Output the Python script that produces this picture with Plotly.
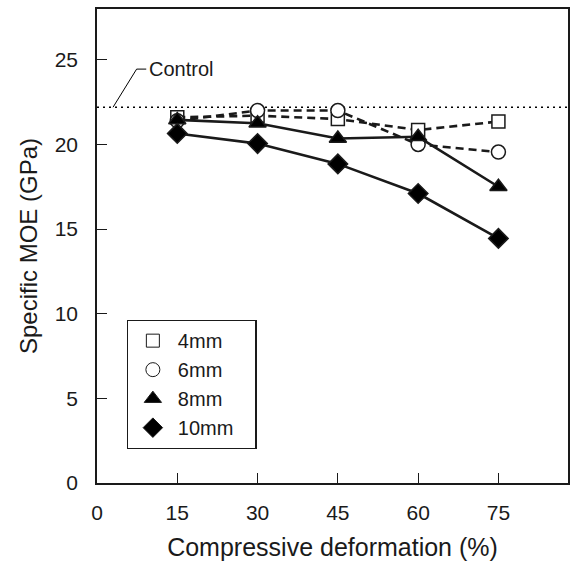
import plotly.graph_objects as go

deformation = [15, 30, 45, 60, 75]
moe_4mm = [21.6, 21.7, 21.5, 20.85, 21.35]
moe_6mm = [21.4, 22.0, 22.0, 20.0, 19.55]
moe_8mm = [21.45, 21.25, 20.35, 20.45, 17.5]
moe_10mm = [20.65, 20.05, 18.85, 17.1, 14.45]
control_moe = 22.2

series = [
    ("4mm", moe_4mm, "square", "white", "8px,5px", 13),
    ("6mm", moe_6mm, "circle", "white", "8px,5px", 14),
    ("8mm", moe_8mm, "triangle-up", "black", "solid", 15),
    ("10mm", moe_10mm, "diamond", "black", "solid", 15),
]

fig = go.Figure()

fig.add_trace(go.Scatter(x=[0, 88], y=[control_moe, control_moe], mode="lines",
                         line=dict(color="black", width=1.6, dash="2px,4px"),
                         showlegend=False, hoverinfo="skip"))

for name, vals, sym, fill, dash, size in series:
    fig.add_trace(go.Scatter(
        x=deformation, y=vals, mode="lines+markers", showlegend=False,
        line=dict(color="#1a1a1a", width=2.6, dash=dash),
        marker=dict(symbol=sym, size=size, color=fill,
                    line=dict(color="#1a1a1a", width=1.5)),
    ))

for name, vals, sym, fill, dash, size in series:
    fig.add_trace(go.Scatter(
        x=[None], y=[None], mode="markers", name=name + "\u00a0\u00a0\u00a0",
        marker=dict(symbol=sym, size=size, color=fill,
                    line=dict(color="#1a1a1a", width=1)),
    ))

fig.add_shape(type="path", xref="x", yref="y",
              path=f"M 3.0 {control_moe} L 7.4 24.45 L 9.2 24.45",
              line=dict(color="black", width=1))
fig.add_annotation(x=9.3, y=24.45, xref="x", yref="y", text="Control",
                   showarrow=False, xanchor="left", yanchor="middle",
                   font=dict(size=20, color="#1a1a1a"))

fig.update_layout(
    width=571, height=561,
    margin=dict(l=97, r=3, t=9, b=78),
    paper_bgcolor="white", plot_bgcolor="white",
    font=dict(family="Liberation Sans, Arial, sans-serif", size=21, color="#1a1a1a"),
    showlegend=True,
    legend=dict(x=0.063, y=0.344, xanchor="left", yanchor="top",
                bordercolor="#1a1a1a", borderwidth=1.2, bgcolor="white",
                font=dict(size=20), itemwidth=40, tracegroupgap=0),
)
fig.update_xaxes(range=[0, 88], tickvals=[0, 15, 30, 45, 60, 75], automargin=False,
                 ticks="inside", ticklen=10, tickwidth=1.2, tickcolor="#1a1a1a",
                 ticklabelstandoff=10,
                 showline=True, linecolor="#1a1a1a", linewidth=1.5, mirror=True,
                 showgrid=False, zeroline=False,
                 title=dict(text="Compressive deformation (%)", font=dict(size=25), standoff=20))
fig.update_yaxes(range=[0, 28], tickvals=[0, 5, 10, 15, 20, 25], automargin=False,
                 ticks="inside", ticklen=10, tickwidth=1.2, tickcolor="#1a1a1a",
                 ticklabelstandoff=13,
                 showline=True, linecolor="#1a1a1a", linewidth=1.5, mirror=True,
                 showgrid=False, zeroline=False,
                 title=dict(text="Specific MOE (GPa)", font=dict(size=24), standoff=10))

fig.write_html("out.html", config={"displayModeBar": False},
               post_script="document.body.style.margin='0px';document.body.style.overflow='hidden';")
